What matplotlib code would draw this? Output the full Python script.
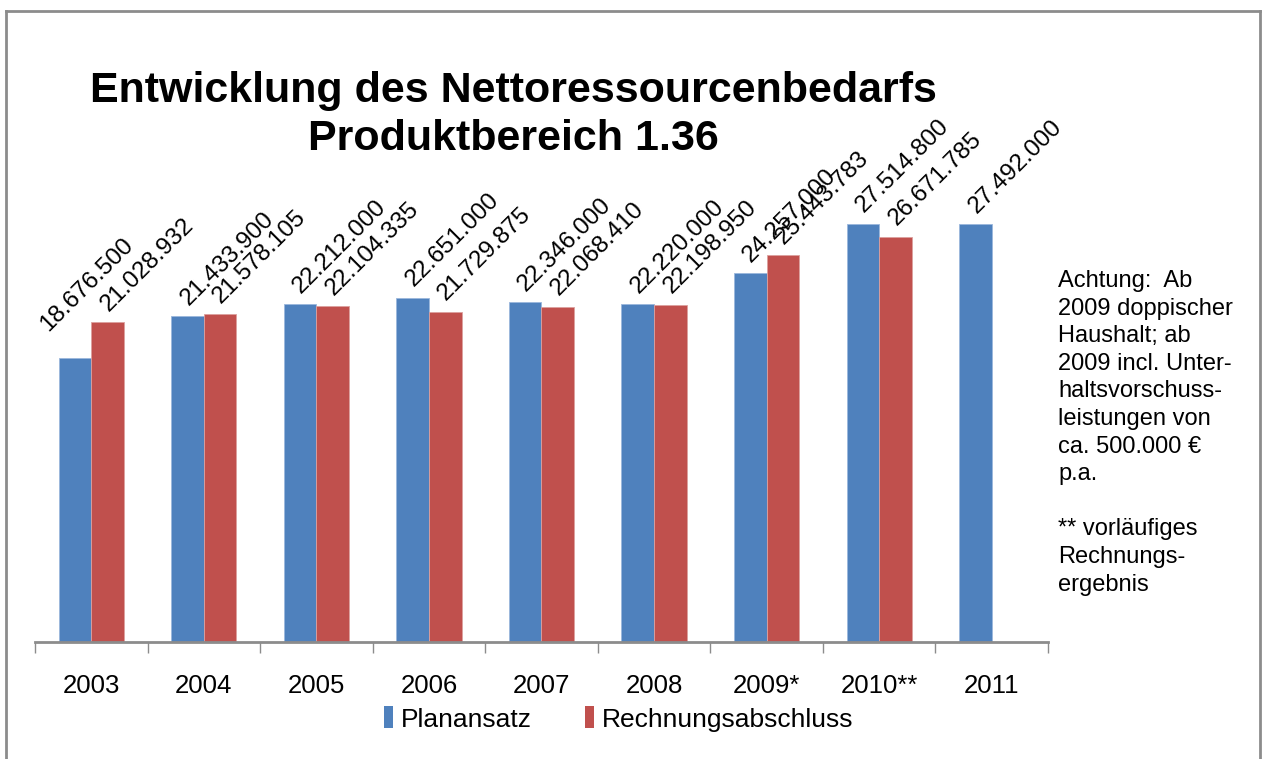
import numpy as np
import matplotlib
matplotlib.use("Agg")
import matplotlib.pyplot as plt
from matplotlib.lines import Line2D
from matplotlib.patches import Patch

plt.rcParams['font.family'] = ['Liberation Sans', 'DejaVu Sans']

# --- data ---
years = ["2003", "2004", "2005", "2006", "2007", "2008", "2009*", "2010**", "2011"]
planansatz = [18676500, 21433900, 22212000, 22651000, 22346000, 22220000, 24257000, 27514800, 27492000]
rechnung = [21028932, 21578105, 22104335, 21729875, 22068410, 22198950, 25443783, 26671785, None]
series_names = ["Planansatz", "Rechnungsabschluss"]

note = ("Achtung:  Ab\n2009 doppischer\nHaushalt; ab\n2009 incl. Unter-\nhaltsvorschuss-\n"
        "leistungen von\nca. 500.000 €\np.a.\n\n** vorläufiges\nRechnungs-\nergebnis")

blue = "#4F81BD"
red = "#C0504D"
W, H = 1264, 759


def fmt(v):
    return f"{v:,.0f}".replace(",", ".")


fig = plt.figure(figsize=(W / 100, H / 100), dpi=100)
ax = fig.add_axes([35 / W, 1 - 642 / H, 1013 / W, 456 / H])

x = np.arange(len(years))
bw = 0.29
plan_bars = ax.bar(x - bw / 2, planansatz, bw, color=blue, edgecolor="#9bb7dc", linewidth=0.6)
rx = [xi + bw / 2 for xi, v in zip(x, rechnung) if v is not None]
rv = [v for v in rechnung if v is not None]
rech_bars = ax.bar(rx, rv, bw, color=red, edgecolor="#dca09e", linewidth=0.6)

# --- rotated value labels ---
for bars in (plan_bars, rech_bars):
    for i, b in enumerate(bars):
        h = b.get_height()
        cx = b.get_x() + b.get_width() / 2
        off = (-8, 5)
        if bars is plan_bars and i == 0:
            off = (-28, 16)  # first label sits further left in the original
        ax.annotate(fmt(h), (cx, h), xytext=off, textcoords="offset points",
                    rotation=45, ha="left", va="bottom", fontsize=17.5)

ax.set_xlim(-0.5, len(years) - 0.5)
ax.set_ylim(0, 30000000)
for s in ("top", "right", "left"):
    ax.spines[s].set_visible(False)
ax.spines["bottom"].set_color("#8c8c8c")
ax.spines["bottom"].set_linewidth(2)
ax.set_yticks([])
ax.set_xticks(x)
ax.set_xticklabels(years, fontsize=18.5)
ax.tick_params(axis="x", which="major", length=0, pad=23)
ax.set_xticks(np.arange(-0.5, len(years)), minor=True)
ax.tick_params(axis="x", which="minor", length=8, width=1, color="#8c8c8c", direction="out")

# --- title ---
fig.text(513 / W, 1 - 115 / H, "Entwicklung des Nettoressourcenbedarfs\nProduktbereich 1.36",
         ha="center", va="center", fontsize=31, fontweight="bold", linespacing=1.25)

# --- side note ---
fig.text(1058 / W, 1 - 270 / H, note, ha="left", va="top", fontsize=17, linespacing=1.33)

# --- legend ---
handles = [Patch(facecolor=blue), Patch(facecolor=red)]
fig.legend(handles, series_names, loc="center", bbox_to_anchor=(619 / W, 1 - 719 / H),
           ncol=2, frameon=False, fontsize=19, handlelength=0.35, handleheight=0.9,
           handletextpad=0.3, columnspacing=2.0)

# --- outer frame ---
fc = "#8c8c8c"
fig.add_artist(Line2D([6 / W, 6 / W], [0, 1 - 11 / H], transform=fig.transFigure, color=fc, lw=2))
fig.add_artist(Line2D([6 / W, 1260 / W], [1 - 11 / H, 1 - 11 / H], transform=fig.transFigure, color=fc, lw=2))
fig.add_artist(Line2D([1260 / W, 1260 / W], [0, 1 - 11 / H], transform=fig.transFigure, color=fc, lw=2))

fig.savefig("out.png", dpi=100)
